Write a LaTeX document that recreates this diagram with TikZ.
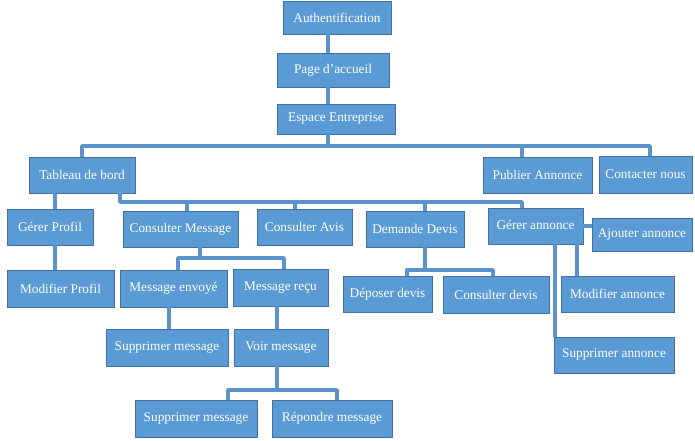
\documentclass[tikz,border=0pt]{standalone}
\usepackage{fontspec}
\setmainfont{Liberation Serif}
\definecolor{boxfill}{HTML}{5B9BD5}
\definecolor{boxdraw}{HTML}{41719C}
\definecolor{linkcol}{HTML}{5B93CC}
\tikzset{
  box/.style={draw=boxdraw, line width=0.9pt, fill=boxfill, text=white, inner sep=0pt,
    font=\fontsize{13.3}{15}\selectfont, align=center},
  link/.style={draw=linkcol, line width=3.4pt, line join=round}
}
\begin{document}
\begin{tikzpicture}[x=1pt,y=-1pt]
\useasboundingbox[fill=white] (0,0) rectangle (695,441);
% nodes
\node[box, minimum width=108pt, minimum height=33pt] (auth) at (337,17.5) {Authentification};
\node[box, minimum width=112pt, minimum height=34pt] (page) at (333,70) {Page d’accueil};
\node[box, minimum width=118pt, minimum height=30pt] (esp) at (336,119) {\raisebox{-3pt}{Espace Entreprise}};
\node[box, minimum width=106pt, minimum height=36pt] (tab) at (82,175) {Tableau de bord};
\node[box, minimum width=109pt, minimum height=36pt] (pub) at (537.5,175) {\raisebox{-1.5pt}{Publier Annonce}};
\node[box, minimum width=93pt, minimum height=37pt] (cont) at (645.5,174.5) {Contacter nous};
\node[box, minimum width=86pt, minimum height=36pt] (gp) at (50,227) {Gérer Profil};
\node[box, minimum width=115pt, minimum height=36pt] (cm) at (180.5,229) {Consulter Message};
\node[box, minimum width=95pt, minimum height=36pt] (ca) at (304.5,227) {Consulter Avis};
\node[box, minimum width=98pt, minimum height=36pt] (dd) at (415,229) {Demande Devis};
\node[box, minimum width=95pt, minimum height=36pt] (ga) at (535.5,226) {\raisebox{3pt}{Gérer annonce}};
\node[box, minimum width=100pt, minimum height=33pt] (aj) at (642,234.5) {\raisebox{-1.5pt}{Ajouter annonce}};
\node[box, minimum width=107pt, minimum height=37pt] (mp) at (60.5,288.5) {Modifier Profil};
\node[box, minimum width=107pt, minimum height=37pt] (me) at (173.5,288.5) {Message envoyé};
\node[box, minimum width=95pt, minimum height=37pt] (mr) at (280.5,287.5) {Message reçu};
\node[box, minimum width=89pt, minimum height=36pt] (dep) at (387.5,294) {Déposer devis};
\node[box, minimum width=106pt, minimum height=37pt] (cd) at (496,294.5) {Consulter devis};
\node[box, minimum width=113pt, minimum height=36pt] (ma) at (617.5,294) {Modifier annonce};
\node[box, minimum width=122pt, minimum height=37pt] (sm1) at (167,347.5) {Supprimer message};
\node[box, minimum width=94pt, minimum height=37pt] (vm) at (281,347.5) {Voir message};
\node[box, minimum width=120pt, minimum height=36pt] (sa) at (614,355) {\raisebox{-2pt}{Supprimer annonce}};
\node[box, minimum width=122pt, minimum height=37pt] (sm2) at (196,418.5) {Supprimer message};
\node[box, minimum width=120pt, minimum height=37pt] (rm) at (332,418.5) {Répondre message};
% junction coordinates
\coordinate (j1) at (328,146);
\coordinate (j2) at (120,202);
\coordinate (j3) at (200,258);
\coordinate (j4) at (277,390);
\coordinate (j5) at (425,270);
% connectors
\draw[link] ([xshift=-9]auth.south) -- ([xshift=-9]auth.south |- page.north);
\draw[link] ([xshift=-5]page.south) -- ([xshift=-5]page.south |- esp.north);
\draw[link] ([xshift=-8]esp.south) -- (j1);
\draw[link] (tab.north) |- ([xshift=4.5]cont.north |- j1) -- ([xshift=4.5]cont.north);
\draw[link] ([xshift=-15.5]pub.north) -- ([xshift=-15.5]pub.north |- j1);
\draw[link] ([xshift=38]tab.south) -- (j2) -| ([xshift=-13.5]ga.north);
\draw[link] ([xshift=6.5]cm.north) -- ([xshift=6.5]cm.north |- j2);
\draw[link] ([xshift=-9.5]ca.north) -- ([xshift=-9.5]ca.north |- j2);
\draw[link] ([xshift=10]dd.north) -- ([xshift=10]dd.north |- j2);
\draw[link] ([xshift=-27]tab.south) -- ([xshift=-27]tab.south |- gp.north);
\draw[link] ([xshift=5]gp.south) -- ([xshift=5]gp.south |- mp.north);
\draw[link] ([xshift=19.5]cm.south) -- (j3);
\draw[link] ([xshift=4.5]me.north) |- ([xshift=3.5]mr.north |- j3) -- ([xshift=3.5]mr.north);
\draw[link] ([xshift=-4.5]me.south) -- ([xshift=-4.5]me.south |- sm1.north);
\draw[link] ([xshift=-3.5]mr.south) -- ([xshift=-3.5]mr.south |- vm.north);
\draw[link] ([xshift=-4]vm.south) -- (j4);
\draw[link] ([xshift=32]sm2.north) |- ([xshift=5]rm.north |- j4) -- ([xshift=5]rm.north);
\draw[link] ([xshift=10]dd.south) -- (j5);
\draw[link] ([xshift=19.5]dep.north) |- ([xshift=-3]cd.north |- j5) -- ([xshift=-3]cd.north);
\draw[link] (ga.east) -- (ga.east -| aj.west);
\draw[link] ([xshift=41.5]ga.south) -- ([xshift=41.5]ga.south |- ma.north);
\draw[link] ([xshift=19.5]ga.south) -- ([xshift=19.5]ga.south |- sa.north);
\end{tikzpicture}
\end{document}
